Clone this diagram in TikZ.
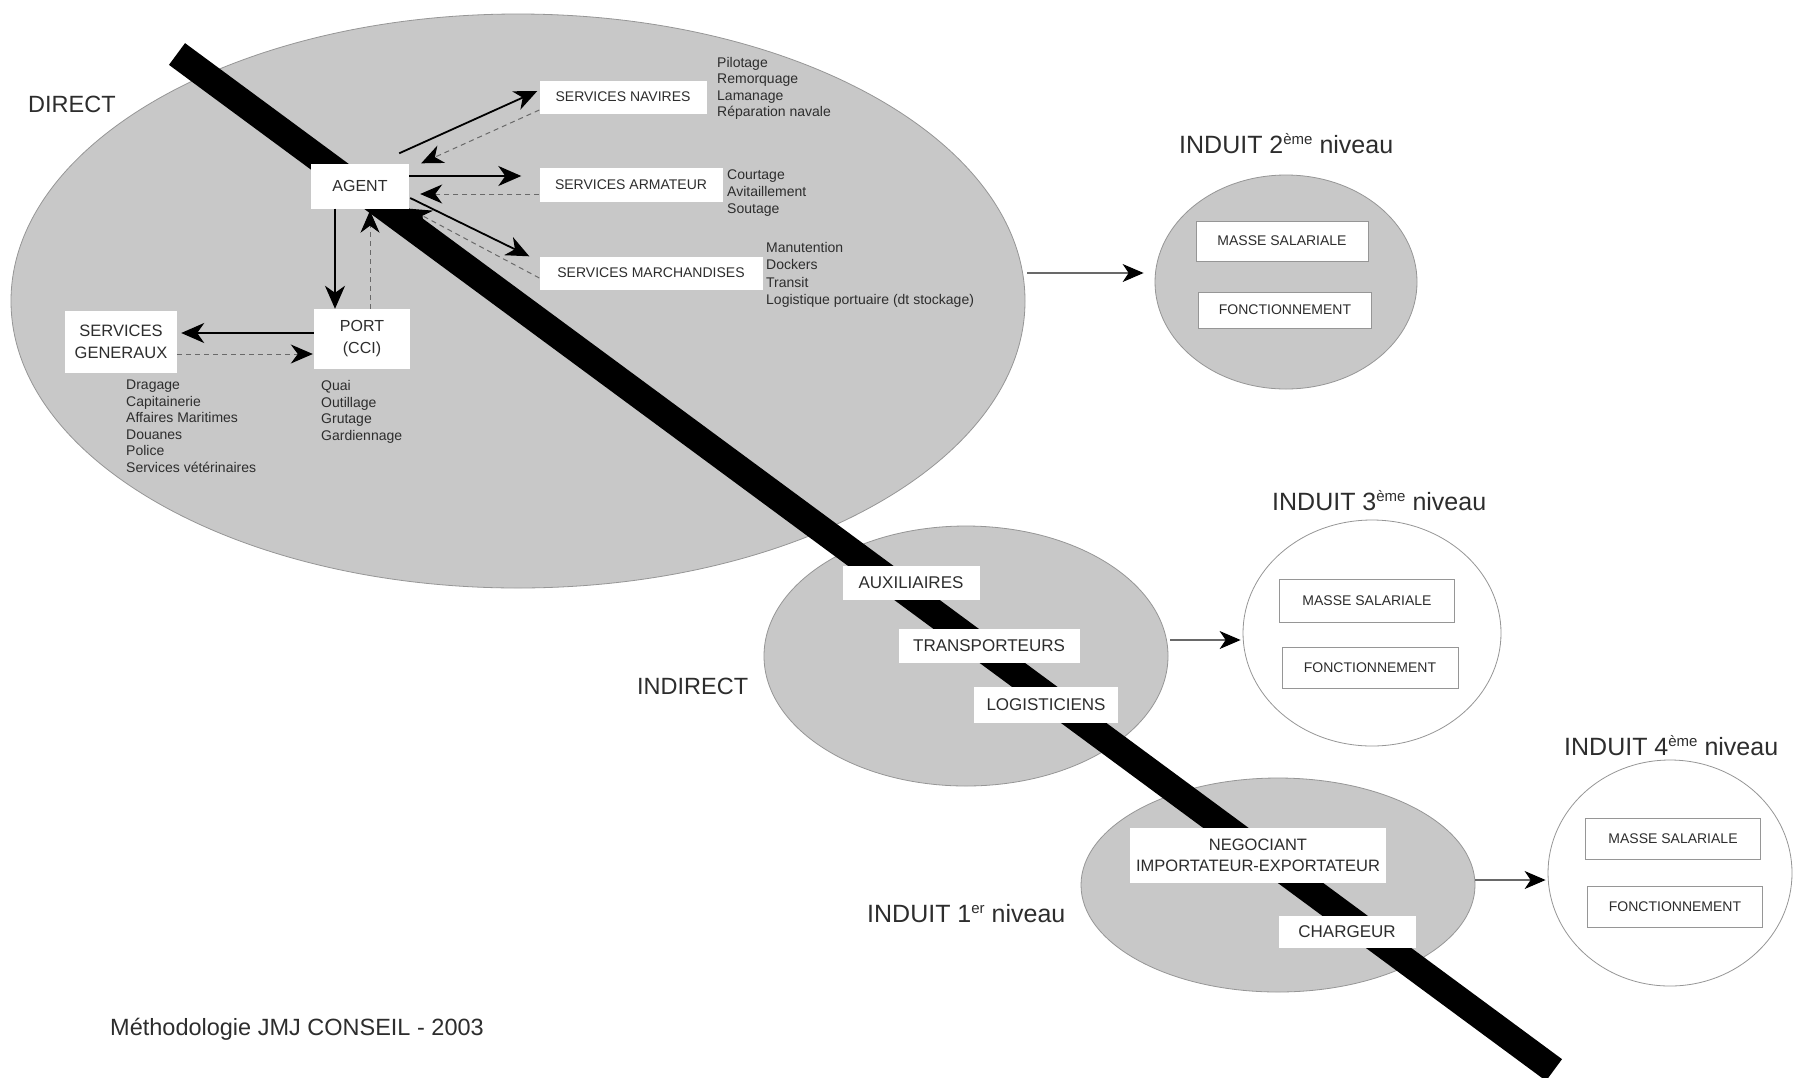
\documentclass[tikz,border=0pt]{standalone}
\usepackage{fontspec}
\setmainfont{Liberation Sans}
\usetikzlibrary{arrows.meta,shapes.geometric}
\definecolor{ellgray}{RGB}{200,200,200}
\definecolor{ellline}{RGB}{150,150,150}
\definecolor{dashgray}{RGB}{105,105,105}
\definecolor{txt}{RGB}{45,45,45}
\newcommand\upx[1]{\raisebox{0.36em}{\fontsize{15}{15}\selectfont #1}}
\begin{document}
\begin{tikzpicture}[x=1pt,y=-1pt,
  ellg/.style={ellipse, fill=ellgray, draw=ellline, line width=0.8pt, inner sep=0},
  ellw/.style={ellipse, fill=white, draw=ellline, line width=0.8pt, inner sep=0},
  wbox/.style={fill=white, inner sep=0, text=txt, align=center},
  gbox/.style={wbox, draw=ellline, line width=0.8pt, font=\fontsize{14}{16}\selectfont},
  biglab/.style={font=\fontsize{23.5}{28}\selectfont, text=txt, inner sep=0, anchor=base west},
  indlab/.style={font=\fontsize{25}{28}\selectfont, text=txt, inner sep=0, anchor=base west},
  lst/.style={font=\fontsize{14}{16}\selectfont, text=txt, inner sep=0, anchor=base west},
  solidarr/.style={line width=1.8pt, -{Stealth[length=23pt,width=20pt,inset=7pt]}},
  dasharr/.style={line width=1pt, draw=dashgray, dash pattern=on 5pt off 4pt, -{Stealth[length=22pt,width=19pt,inset=7pt,color=black]}},
  thinarr/.style={line width=1.1pt, draw=dashgray, -{Stealth[length=21pt,width=18pt,inset=6pt,color=black]}}
]
\useasboundingbox (0,0) rectangle (1793,1077);
\fill[white] (0,0) rectangle (1793,1077);

% ellipses
\node[ellg, minimum width=1014pt, minimum height=574pt] (direct) at (518,301) {};
\node[ellg, minimum width=262pt, minimum height=214pt] (ind2) at (1286,282) {};
\node[ellg, minimum width=404pt, minimum height=260pt] (indirect) at (966,656) {};
\node[ellw, minimum width=258pt, minimum height=226pt] (ind3) at (1372,633) {};
\node[ellg, minimum width=394pt, minimum height=214pt] (ind1) at (1278,885) {};
\node[ellw, minimum width=244pt, minimum height=226pt] (ind4) at (1670,873) {};

% black band
\coordinate (bandA) at (177,54);
\coordinate (bandB) at (1554,1070);
\draw[line width=27pt, black] (bandA) -- (bandB);

% boxes in DIRECT
\node[wbox, font=\fontsize{16}{22}\selectfont, minimum width=98pt, minimum height=45pt] (agent) at (360,186) {AGENT};
\node[wbox, font=\fontsize{14}{16}\selectfont, minimum width=167pt, minimum height=33pt] (sn) at (623,97) {SERVICES NAVIRES};
\node[wbox, font=\fontsize{14}{16}\selectfont, minimum width=183pt, minimum height=34pt] (sa) at (631,185) {SERVICES ARMATEUR};
\node[wbox, font=\fontsize{14}{16}\selectfont, minimum width=223pt, minimum height=33pt] (sm) at (651,273) {SERVICES MARCHANDISES};
\node[wbox, font=\fontsize{16}{22}\selectfont, minimum width=96pt, minimum height=60pt] (port) at (362,339) {PORT\\(CCI)};
\node[wbox, font=\fontsize{16.5}{22}\selectfont, minimum width=112pt, minimum height=62pt] (sg) at (121,342) {SERVICES\\GENERAUX};

% lists
\foreach \t [count=\i] in {Pilotage, Remorquage, Lamanage, Réparation navale}
  \node[lst] (pil\i) at (717,{67.5+16.3*(\i-1)}) {\t};
\foreach \t [count=\i] in {Courtage, Avitaillement, Soutage}
  \node[lst] (cou\i) at (727,{179.5+17*(\i-1)}) {\t};
\foreach \t [count=\i] in {Manutention, Dockers, Transit, Logistique portuaire (dt stockage)}
  \node[lst] (man\i) at (766,{252.5+17.3*(\i-1)}) {\t};
\foreach \t [count=\i] in {Dragage, Capitainerie, Affaires Maritimes, Douanes, Police, Services vétérinaires}
  \node[lst] (sgl\i) at (126,{389.5+16.6*(\i-1)}) {\t};
\foreach \t [count=\i] in {Quai, Outillage, Grutage, Gardiennage}
  \node[lst] (prl\i) at (321,{390.5+16.7*(\i-1)}) {\t};

% INDIRECT boxes
\node[wbox, font=\fontsize{17}{21}\selectfont, minimum width=137pt, minimum height=34pt] (aux) at (911,583) {AUXILIAIRES};
\node[wbox, font=\fontsize{17}{21}\selectfont, minimum width=181pt, minimum height=34pt] (trans) at (989,646) {TRANSPORTEURS};
\node[wbox, font=\fontsize{17}{21}\selectfont, minimum width=144pt, minimum height=36pt] (logi) at (1046,705) {LOGISTICIENS};

% INDUIT 1er boxes
\node[wbox, font=\fontsize{16.5}{21}\selectfont, minimum width=256pt, minimum height=55pt] (nego) at (1258,855) {NEGOCIANT\\IMPORTATEUR-EXPORTATEUR};
\node[wbox, font=\fontsize{17}{21}\selectfont, minimum width=137pt, minimum height=32pt] (charg) at (1347,932) {CHARGEUR};

% INDUIT boxes
\node[gbox, minimum width=172pt, minimum height=40pt] (masse2) at (1282,241) {MASSE SALARIALE};
\node[gbox, minimum width=173pt, minimum height=36pt] (fonct2) at (1285,310) {FONCTIONNEMENT};
\node[gbox, minimum width=175pt, minimum height=43pt] (masse3) at (1367,601) {MASSE SALARIALE};
\node[gbox, minimum width=176pt, minimum height=41pt] (fonct3) at (1370,668) {FONCTIONNEMENT};
\node[gbox, minimum width=175pt, minimum height=41pt] (masse4) at (1673,839) {MASSE SALARIALE};
\node[gbox, minimum width=175pt, minimum height=41pt] (fonct4) at (1675,907) {FONCTIONNEMENT};

% labels
\node[biglab] (lbdirect) at (28,112) {DIRECT};
\node[biglab] (lbindirect) at (637,694) {INDIRECT};
\node[indlab] (lbi2) at (1179,153) {INDUIT 2\upx{ème} niveau};
\node[indlab] (lbi3) at (1272,510) {INDUIT 3\upx{ème} niveau};
\node[indlab] (lbi4) at (1564,755) {INDUIT 4\upx{ème} niveau};
\node[indlab] (lbi1) at (867,922) {INDUIT 1\upx{er} niveau};
\node[biglab] (footer) at (110,1035) {Méthodologie JMJ CONSEIL - 2003};

% arrows in DIRECT
\draw[solidarr] ([shift={(-10,-10)}]agent.north east) -- ([shift={(-2,-6)}]sn.west);
\draw[dasharr] ([shift={(0,13)}]sn.west) -- ([shift={(12,0)}]agent.north east);
\draw[solidarr] ([shift={(0,-10)}]agent.east) -- ([shift={(-18,-9)}]sa.west);
\draw[dasharr] ([shift={(0,9)}]sa.west) -- ([shift={(11,8)}]agent.east);
\draw[solidarr] ([shift={(1,12)}]agent.east) -- ([shift={(-10,0)}]sm.north west);
\draw[dasharr] ([shift={(0,5)}]sm.west) -- (agent.south east);
\draw[solidarr] ([shift={(-25,0)}]agent.south) -- ([shift={(-27,0)}]port.north);
\draw[dasharr] ([shift={(8,0)}]port.north) -- ([shift={(10,2)}]agent.south);
\draw[solidarr] ([shift={(0,-6)}]port.west) -- ([shift={(4,-9)}]sg.east);
\draw[dasharr] ([shift={(0,12)}]sg.east) -- ([shift={(-1,15)}]port.west);

% arrows to INDUIT
\draw[thinarr] ([shift={(2,-28)}]direct.east) -- ([shift={(-11,-9)}]ind2.west);
\draw[thinarr] ([shift={(2,-16)}]indirect.east) -- ([shift={(-2,7)}]ind3.west);
\draw[thinarr] ([shift={(0,-5)}]ind1.east) -- ([shift={(-2,7)}]ind4.west);
\end{tikzpicture}
\end{document}
